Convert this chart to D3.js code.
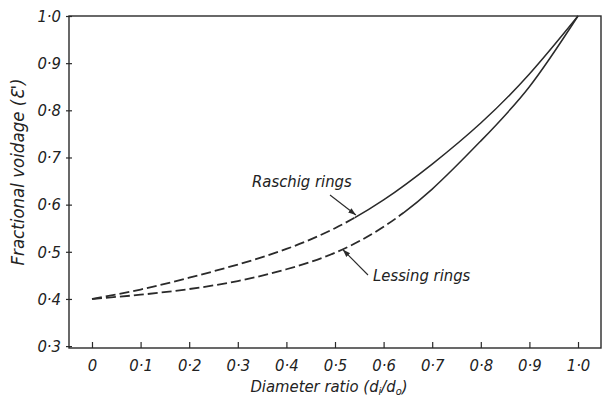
<!DOCTYPE html>
<html>
<head>
<meta charset="utf-8">
<script src="https://cdn.jsdelivr.net/npm/d3@7"></script>
<style>
  html, body { margin: 0; padding: 0; background: #fff; }
  svg text { font-family: "DejaVu Sans Condensed", "Liberation Sans Narrow", "Liberation Sans", sans-serif; font-style: italic; fill: #222; }
</style>
</head>
<body>
<svg id="chart" width="603" height="403"></svg>
<script>
// Diameter ratio d_i/d_o
const diameterRatio = [0.0, 0.1, 0.2, 0.3, 0.4, 0.5, 0.6, 0.7, 0.8, 0.9, 1.0];
// Fractional voidage for each ring type
const raschigVoidage = [0.400, 0.420, 0.445, 0.473, 0.506, 0.550, 0.610, 0.686, 0.773, 0.877, 1.000];
const lessingVoidage = [0.400, 0.409, 0.421, 0.438, 0.463, 0.498, 0.553, 0.633, 0.735, 0.850, 1.000];
// Dashed up to these ratios, solid beyond
const raschigDashedTo = 0.54;
const lessingDashedTo = 0.64;

const xTicks = [0, 0.1, 0.2, 0.3, 0.4, 0.5, 0.6, 0.7, 0.8, 0.9, 1.0];
const xTickLabels = ["0", "0·1", "0·2", "0·3", "0·4", "0·5", "0·6", "0·7", "0·8", "0·9", "1·0"];
const yTicks = [0.3, 0.4, 0.5, 0.6, 0.7, 0.8, 0.9, 1.0];
const yTickLabels = ["0·3", "0·4", "0·5", "0·6", "0·7", "0·8", "0·9", "1·0"];

const svg = d3.select("#chart");
const plotLeft = 69, plotRight = 601, plotTop = 16, plotBottom = 348;

const x = d3.scaleLinear().domain([-0.0473, 1.0473]).range([plotLeft, plotRight]);
const y = d3.scaleLinear().domain([0.296, 1.0]).range([plotBottom, plotTop]);

const ink = "#2a2a2a";

// Plot frame
svg.append("rect")
  .attr("x", plotLeft).attr("y", plotTop)
  .attr("width", plotRight - plotLeft).attr("height", plotBottom - plotTop)
  .attr("fill", "none").attr("stroke", ink).attr("stroke-width", 1.4);

// X axis: short inward ticks
const xAxis = d3.axisBottom(x).tickValues(xTicks)
  .tickSize(-6).tickPadding(11)
  .tickFormat((d, i) => xTickLabels[i]);
const gx = svg.append("g").attr("transform", `translate(0,${plotBottom})`).call(xAxis);
gx.select(".domain").remove();
gx.selectAll(".tick line").attr("stroke", ink).attr("stroke-width", 1.2);
gx.selectAll(".tick text").attr("font-size", 16.5).attr("fill", "#222");

// Y axis
const yAxis = d3.axisLeft(y).tickValues(yTicks)
  .tickSize(3).tickPadding(5)
  .tickFormat((d, i) => yTickLabels[i]);
const gy = svg.append("g").attr("transform", `translate(${plotLeft},0)`).call(yAxis);
gy.select(".domain").remove();
gy.selectAll(".tick line").attr("stroke", ink).attr("stroke-width", 1.2).attr("x2", 3).attr("x1", -3);
gy.selectAll(".tick text").attr("font-size", 16.5).attr("fill", "#222");
svg.selectAll("g").attr("font-family", null).attr("font-size", null);

// Axis titles
const xt = svg.append("text")
  .attr("x", 329).attr("y", 392)
  .attr("text-anchor", "middle").attr("font-size", 16.5);
xt.append("tspan").text("Diameter ratio (d");
xt.append("tspan").attr("font-size", 11).attr("dy", 3).text("i");
xt.append("tspan").attr("dy", -3).text("/d");
xt.append("tspan").attr("font-size", 11).attr("dy", 3).text("o");
xt.append("tspan").attr("dy", -3).text(")");

svg.append("text")
  .attr("transform", "translate(24,172) rotate(-90)")
  .attr("text-anchor", "middle").attr("font-size", 18.5)
  .text("Fractional voidage (Ɛ')");

// Curves: dashed part clipped left of the break, solid part right of it
const line = d3.line().curve(d3.curveNatural)
  .x(d => x(d[0])).y(d => y(d[1]));

function drawCurve(id, values, breakAt) {
  const pts = diameterRatio.map((d, i) => [d, values[i]]);
  const defs = svg.append("defs");
  defs.append("clipPath").attr("id", id + "-dash")
    .append("rect").attr("x", 0).attr("y", 0)
    .attr("width", x(breakAt)).attr("height", 403);
  defs.append("clipPath").attr("id", id + "-solid")
    .append("rect").attr("x", x(breakAt)).attr("y", 0)
    .attr("width", 603 - x(breakAt)).attr("height", 403);
  svg.append("path").datum(pts).attr("d", line)
    .attr("fill", "none").attr("stroke", ink).attr("stroke-width", 1.8)
    .attr("stroke-dasharray", "10,4")
    .attr("clip-path", `url(#${id}-dash)`);
  svg.append("path").datum(pts).attr("d", line)
    .attr("fill", "none").attr("stroke", ink).attr("stroke-width", 1.5)
    .attr("clip-path", `url(#${id}-solid)`);
}
drawCurve("raschig", raschigVoidage, raschigDashedTo);
drawCurve("lessing", lessingVoidage, lessingDashedTo);

// Annotations with arrows pointing to the curves
svg.append("defs").append("marker")
  .attr("id", "arrow").attr("viewBox", "0 0 10 10")
  .attr("refX", 10).attr("refY", 5)
  .attr("markerWidth", 7).attr("markerHeight", 7)
  .attr("orient", "auto-start-reverse")
  .append("path").attr("d", "M0,1.5 L10,5 L0,8.5 Z").attr("fill", ink);

function interp(values, r) {
  return d3.scaleLinear().domain(diameterRatio).range(values)(r);
}

function annotate(label, lx, ly, fromX, fromY, r, values, offset) {
  svg.append("text").attr("x", lx).attr("y", ly).attr("font-size", 16.5).text(label);
  svg.append("line")
    .attr("x1", fromX).attr("y1", fromY)
    .attr("x2", x(r)).attr("y2", y(interp(values, r)) + offset)
    .attr("stroke", ink).attr("stroke-width", 1.1)
    .attr("marker-end", "url(#arrow)");
}
annotate("Raschig rings", 252, 187, 330, 195, 0.543, raschigVoidage, -1);
annotate("Lessing rings", 373, 281, 368, 275, 0.516, lessingVoidage, 1);
</script>
</body>
</html>
